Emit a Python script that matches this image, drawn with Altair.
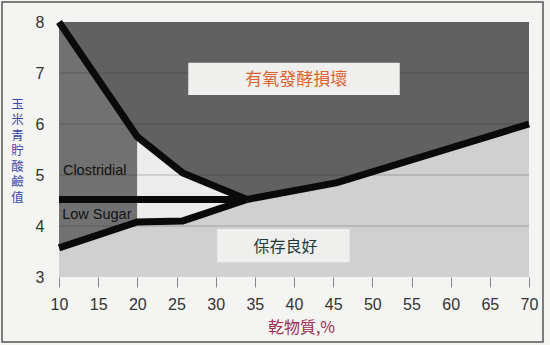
import altair as alt
import pandas as pd

# ---- data ----
upper_x = [10, 20, 25.8, 34]          # upper (clostridial) boundary
upper_y = [8.0, 5.75, 5.04, 4.52]
lower_x = [10, 20, 25.8, 34]          # low-sugar boundary
lower_y = [3.57, 4.08, 4.10, 4.52]
crit_x = [34, 45.5, 70]               # critical pH line
crit_y = [4.52, 4.85, 6.0]
sugar_x = [10, 34]                    # horizontal line
sugar_y = [4.52, 4.52]
grid_y = [4, 5, 6, 7]
x_ticks = [10, 15, 20, 25, 30, 35, 40, 45, 50, 55, 60, 65, 70]
y_ticks = [3, 4, 5, 6, 7, 8]

y_title = ["玉", "米", "青", "貯", "酸", "鹼", "值"]
x_title = "乾物質,%"
label_aerobic = "有氧發酵損壞"
label_good = "保存良好"
label_clos = "Clostridial"
label_sugar = "Low Sugar"

# label boxes (data units)
box_x = [26.5, 30.2]
box_x2 = [53.5, 47.1]
box_y = [6.57, 3.29]
box_y2 = [7.20, 3.94]

# ---- build tables ----
aer = pd.DataFrame({"x": upper_x + crit_x[1:], "y": upper_y + crit_y[1:],
                    "y2": [8.0] * (len(upper_x) + len(crit_x) - 1)})
clos = pd.DataFrame({"x": lower_x[:2], "y": lower_y[:2], "y2": upper_y[:2]})
mid = pd.DataFrame({"x": lower_x[1:], "y": lower_y[1:], "y2": upper_y[1:]})
stab = pd.DataFrame({"x": lower_x + crit_x[1:], "y": [3.0] * (len(lower_x) + len(crit_x) - 1),
                     "y2": lower_y + crit_y[1:]})

lrows = []
for name, xs_, ys_ in [("upper", upper_x, upper_y), ("lower", lower_x, lower_y),
                       ("crit", crit_x, crit_y), ("sugar", sugar_x, sugar_y)]:
    for i, (x, y) in enumerate(zip(xs_, ys_)):
        lrows.append({"line": name, "x": x, "y": y, "i": i})
lines = pd.DataFrame(lrows)

boxes = pd.DataFrame({"x": box_x, "x2": box_x2, "y": box_y, "y2": box_y2})
grid = pd.DataFrame({"y": grid_y})

xs = alt.Scale(domain=[10, 70], nice=False, zero=False)
ys = alt.Scale(domain=[3, 8], nice=False, zero=False)

x_axis = alt.Axis(values=x_ticks, labelFontSize=16, labelColor="#333333",
                  labelFont="Liberation Sans", domain=False, grid=False,
                  labelOverlap=False, labelFlush=False,
                  ticks=True, tickSize=10, tickColor="#888888", labelPadding=9,
                  title=x_title, titleFont="Noto Sans CJK TC", titleFontSize=16,
                  titleFontWeight="normal", titleColor="#9b2d50",
                  titleX=242, titleY=50, titleBaseline="middle", titleAlign="center")
y_axis = alt.Axis(values=y_ticks, labelFontSize=16, labelColor="#333333",
                  labelFont="Liberation Sans", domain=False, grid=False,
                  labelOverlap=False, labelFlush=False,
                  ticks=False, labelPadding=15,
                  title=y_title, titleAngle=0, titleFont="Noto Sans CJK TC",
                  titleFontSize=12.5, titleFontWeight="normal", titleColor="#3b48a8",
                  titleLineHeight=15.5, titleX=-42, titleY=76,
                  titleBaseline="top", titleAlign="center")


def X(f="x:Q"):
    return alt.X(f, scale=xs, axis=x_axis)


def Y(f="y:Q"):
    return alt.Y(f, scale=ys, axis=y_axis)


def region(df, color):
    return alt.Chart(df).mark_area(color=color, opacity=1, line=False).encode(
        x=X(), y=Y(), y2="y2:Q")


a1 = region(aer, "#616161")
a2 = region(clos, "#717171")
a3 = region(mid, "#ececec")
a4 = region(stab, "#d0d0d0")

grid_layer = alt.Chart(grid).mark_rule(color="#2a2a2a", opacity=0.3, strokeWidth=1).encode(
    y=Y()
)

box_layer = alt.Chart(boxes).mark_rect(color="#efefed", opacity=1).encode(
    x=X(), x2="x2:Q", y=Y(), y2="y2:Q",
)

line_layer = alt.Chart(lines).mark_line(color="#0a0a0a", strokeWidth=7,
                                        strokeJoin="miter").encode(
    x=X(), y=Y(), detail="line:N", order="i:Q",
)


def txt(s, x, y, color, size, font, align="center"):
    d = pd.DataFrame({"x": [x], "y": [y], "t": [s]})
    return alt.Chart(d).mark_text(color=color, fontSize=size, font=font,
                                  align=align, baseline="middle").encode(
        x=X(), y=Y(), text="t:N")


t1 = txt(label_aerobic, 40.3, 6.86, "#db6430", 17, "Noto Sans CJK TC")
t2 = txt(label_good, 38.9, 3.58, "#1f3838", 16, "Noto Sans CJK TC")
t3 = txt(label_clos, 10.5, 5.08, "#111111", 14.5, "Liberation Sans", "left")
t4 = txt(label_sugar, 10.4, 4.21, "#111111", 14.5, "Liberation Sans", "left")

frame = alt.Chart(grid).mark_rect(filled=False, stroke="#555555", strokeWidth=1.5).encode(
    x=alt.value(-57), x2=alt.value(484), y=alt.value(-20), y2=alt.value(320)
).transform_filter("datum.y == 4")

chart = alt.layer(a1, a2, a3, a4, grid_layer, box_layer, line_layer, t1, t2, t3, t4, frame).properties(
    width=470, height=255,
    padding={"left": 59, "top": 22, "right": 21, "bottom": 68},
    autosize=alt.AutoSizeParams(type="none"),
    background="#f4f4f2",
).configure_view(strokeWidth=0)

chart.save("out.html", embed_options={"renderer": "svg", "actions": False})
